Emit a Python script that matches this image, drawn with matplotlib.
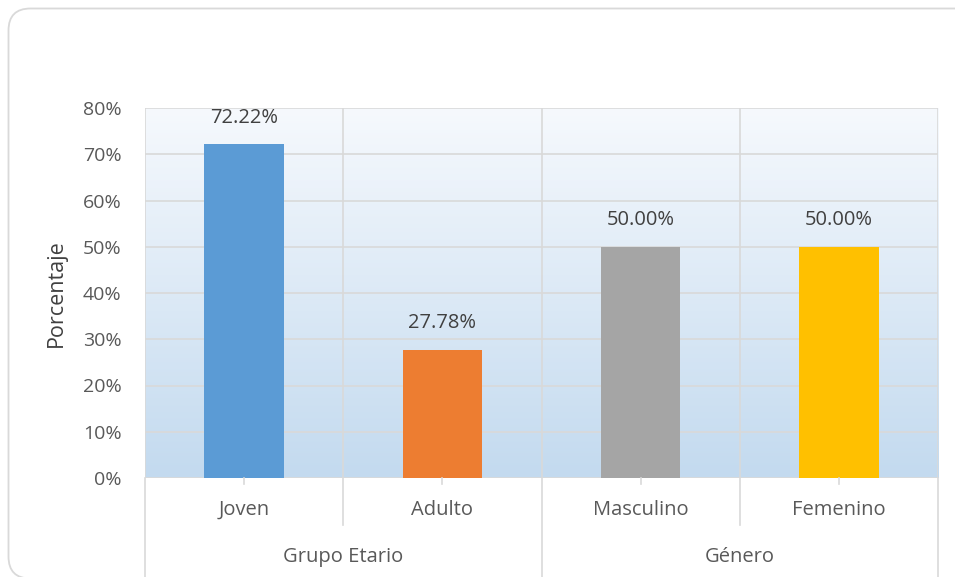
import matplotlib
matplotlib.use('Agg')
import matplotlib.pyplot as plt
import numpy as np
from matplotlib.patches import FancyBboxPatch
from matplotlib.lines import Line2D
from matplotlib.transforms import IdentityTransform

plt.rcParams['font.family'] = ['Open Sans', 'DejaVu Sans']

# data
categories = ['Joven', 'Adulto', 'Masculino', 'Femenino']
groups = ['Grupo Etario', 'Género']
group_sizes = [2, 2]
values = [72.22, 27.78, 50.00, 50.00]
colors = ['#5b9bd5', '#ed7d31', '#a5a5a5', '#ffc000']
yticks = [0, 10, 20, 30, 40, 50, 60, 70, 80]

fig = plt.figure(figsize=(9.55, 5.77), dpi=100)

# rounded chart border (pixel coords, origin bottom-left)
border = FancyBboxPatch((8.5, -1.5), 968, 577 - 7,
                        boxstyle='round,pad=0,rounding_size=22',
                        transform=IdentityTransform(), facecolor='white',
                        edgecolor='#d9d9d9', lw=1.3, zorder=-10)
fig.patches.append(border)

ax = fig.add_axes([145 / 955, 1 - 478 / 577, 793 / 955, 370 / 577])
ax.set_facecolor('none')
ax.set_zorder(5)

n = len(categories)
x = np.arange(n)

# gradient background
grad = np.linspace(0, 1, 256).reshape(-1, 1)
top_c = np.array([0xf6, 0xf9, 0xfd]) / 255
bot_c = np.array([0xc3, 0xda, 0xef]) / 255
img = top_c * (1 - grad)[..., None] + bot_c * grad[..., None]
img = np.repeat(img, 2, axis=1)
ax.imshow(img, extent=(-0.5, n - 0.5, 0, 80), aspect='auto', zorder=0,
          origin='upper')
ax.set_xlim(-0.5, n - 0.5)
ax.set_ylim(0, 80)

# grid
for t in yticks:
    ax.axhline(t, color='#d9d9d9', lw=1.2, zorder=1)
for b in np.arange(n + 1) - 0.5:
    ax.axvline(b, color='#d9d9d9', lw=1.2, zorder=1)

bars = ax.bar(x, values, 0.40, color=colors, zorder=2)
for xi, v in zip(x, values):
    ax.annotate('%.2f%%' % v, (xi, v), xytext=(0, 19), textcoords='offset points',
                ha='center', va='center', fontsize=14.5, color='#404040')

for s in ax.spines.values():
    s.set_visible(False)

ax.set_yticks(yticks)
ax.set_yticklabels(['%d%%' % t for t in yticks], fontsize=14, color='#595959')
ax.tick_params(axis='y', length=0, pad=17)
ax.set_xticks([])
ax.set_ylabel('Porcentaje', fontsize=15.5, color='#404040', labelpad=11)

# two-level category axis
lc = '#d9d9d9'
trans = ax.get_xaxis_transform()
for xi in x:
    ax.add_line(Line2D([xi, xi], [0, -6 / 370], transform=trans, color=lc,
                       lw=1.2, clip_on=False))
for xi, c in zip(x, categories):
    ax.text(xi, -32 / 370, c, transform=trans, ha='center', va='center',
            fontsize=14.5, color='#595959')
start = 0
for g, sz in zip(groups, group_sizes):
    ax.text(start + sz / 2 - 0.5, -79 / 370, g, transform=trans, ha='center',
            va='center', fontsize=14.5, color='#595959')
    start += sz
bounds = np.cumsum([0] + group_sizes) - 0.5
for b in np.arange(n + 1) - 0.5:
    low = -100 / 370 if b in bounds else -47 / 370
    ax.add_line(Line2D([b, b], [0, low], transform=trans, color=lc,
                       lw=1.2, clip_on=False))

fig.savefig('out.png', dpi=100)
